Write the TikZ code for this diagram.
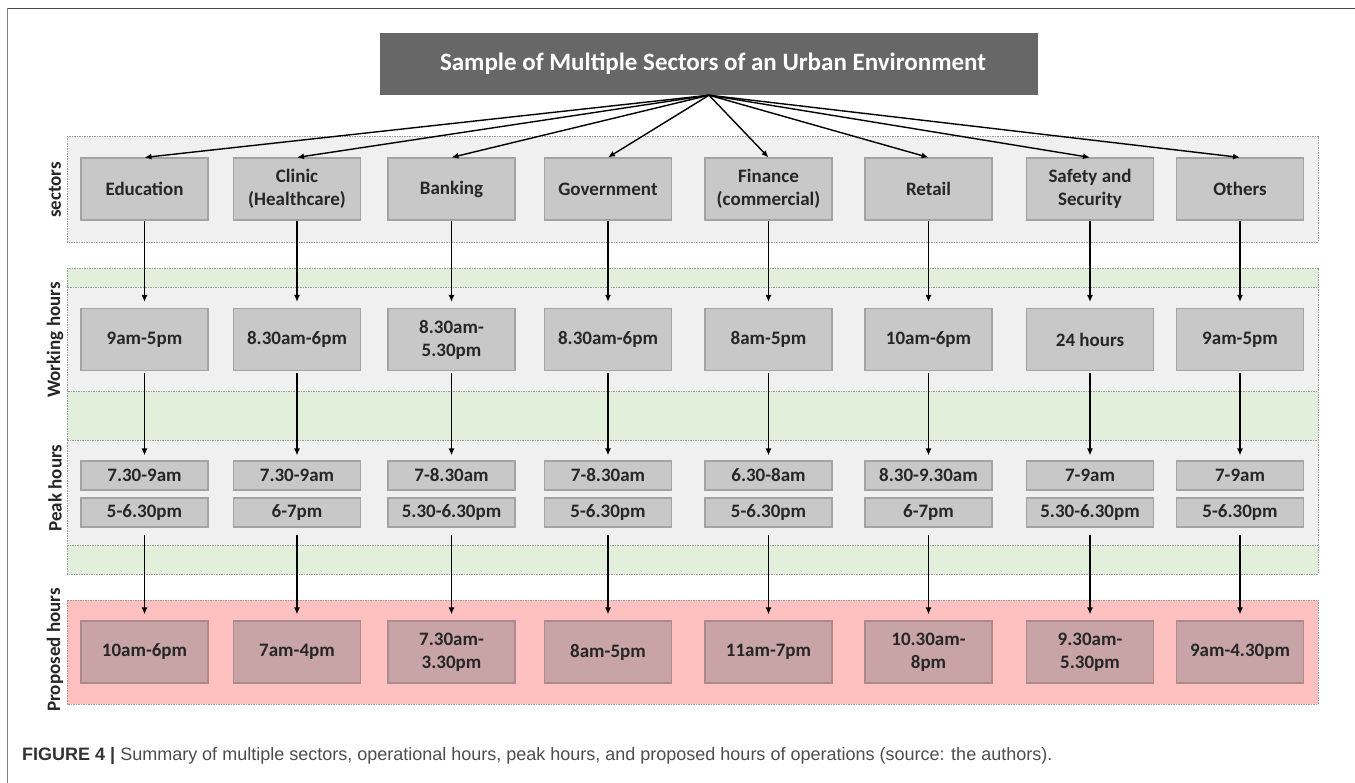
\documentclass[tikz,border=0pt]{standalone}
\usepackage{fontspec}
\newfontfamily\carl{Carlito}
\newfontfamily\capf{Liberation Sans}
\usetikzlibrary{arrows.meta}
\definecolor{titlegray}{HTML}{676767}
\definecolor{bandgray}{HTML}{F0F0F0}
\definecolor{bandgreen}{HTML}{E2EFDA}
\definecolor{bandpink}{HTML}{FFC0C0}
\definecolor{boxgray}{HTML}{C8C8C8}
\definecolor{boxedge}{HTML}{A3A3A3}
\definecolor{rosebox}{HTML}{C9A4A6}
\definecolor{roseedge}{HTML}{AA8A8C}
\definecolor{dashgray}{HTML}{9C9C9C}
\definecolor{txt}{HTML}{262626}
\definecolor{framedark}{HTML}{4A4A4A}
\definecolor{frameleft}{HTML}{7F7F7F}
\definecolor{capdark}{HTML}{333333}
\definecolor{capgray}{HTML}{4D4D4D}
\begin{document}
\begin{tikzpicture}[x=1pt,y=-1pt,
  band/.style={draw=dashgray, line width=0.7pt, dash pattern=on 1.5pt off 1pt},
  cell/.style={draw=boxedge, fill=boxgray, line width=1.1pt, minimum width=127pt, inner sep=0pt, align=center, font=\carl\bfseries\fontsize{19}{23}\selectfont, text=txt},
  bigcell/.style={cell, minimum height=62pt},
  smallcell/.style={cell, minimum height=29pt},
  propcell/.style={bigcell, draw=roseedge, fill=rosebox},
  rowlabel/.style={rotate=90, inner sep=0pt, font=\carl\bfseries\fontsize{19}{23}\selectfont, text=txt},
  arr/.style={draw=black, line width=1.4pt, -{Latex[length=7pt,width=6pt]}},
]
\useasboundingbox (0,0) rectangle (1355,783);
\fill[white] (0,0) rectangle (1355,783);
% frame
\draw[framedark, line width=1.4pt] (7,8.5) -- (1355,8.5);
\draw[frameleft, line width=1.6pt] (7.5,8) -- (7.5,783);
% bands
\filldraw[band, fill=bandgray] (67,136) rectangle (1318,242);
\filldraw[band, fill=bandgreen] (67,268) rectangle (1318,574);
\filldraw[band, fill=bandgray] (67,287) rectangle (1318,391);
\filldraw[band, fill=bandgray] (67,440) rectangle (1318,545);
\filldraw[band, fill=bandpink] (67,600) rectangle (1318,704);
% row labels
\node[rowlabel] (lsec) at (55,190) {sectors};
\node[rowlabel] (lwork) at (55,340) {Working hours};
\node[rowlabel] (lpeak) at (55,488) {Peak hours};
\node[rowlabel] (lprop) at (55,650) {Proposed hours};
% title
\node[fill=titlegray, minimum width=658pt, minimum height=62pt, inner sep=0pt, text=white, font=\carl\bfseries\fontsize{25}{30}\selectfont] (T) at (709,64) {\hspace*{8pt}Sample of Multiple Sectors of an Urban Environment};
% columns
\foreach \i/\x/\s/\w/\pa/\pb/\p in {
  1/144.5/{Education}/{9am-5pm}/{7.30-9am}/{5-6.30pm}/{10am-6pm},
  2/297/{Clinic\\(Healthcare)}/{8.30am-6pm}/{7.30-9am}/{6-7pm}/{7am-4pm},
  3/451.5/{Banking}/{8.30am-\\5.30pm}/{7-8.30am}/{5.30-6.30pm}/{7.30am-\\3.30pm},
  4/608/{Government}/{8.30am-6pm}/{7-8.30am}/{5-6.30pm}/{8am-5pm},
  5/768.5/{Finance\\(commercial)}/{8am-5pm}/{6.30-8am}/{5-6.30pm}/{11am-7pm},
  6/928.5/{Retail}/{10am-6pm}/{8.30-9.30am}/{6-7pm}/{10.30am-\\8pm},
  7/1090/{Safety and\\Security}/{24 hours}/{7-9am}/{5.30-6.30pm}/{9.30am-\\5.30pm},
  8/1240/{Others}/{9am-5pm}/{7-9am}/{5-6.30pm}/{9am-4.30pm}} {
  \node[bigcell] (s\i) at (\x,189) {\s};
  \node[bigcell] (w\i) at (\x,339.5) {\w};
  \node[smallcell] (pa\i) at (\x,475.5) {\pa};
  \node[smallcell] (pb\i) at (\x,512.5) {\pb};
  \node[propcell] (p\i) at (\x,652) {\p};
  \draw[arr] (T.south) -- (s\i.north);
  \draw[arr, shorten >=6pt] (s\i.south) -- (w\i.north);
  \draw[arr, shorten <=2pt, shorten >=5pt] (w\i.south) -- (pa\i.north);
  \draw[arr, shorten <=7pt, shorten >=6pt] (pb\i.south) -- (p\i.north);
}
% caption
\node[anchor=base west, inner sep=0pt, font=\capf\fontsize{18}{21}\selectfont] (cap) at (22,760)
  {\textcolor{capdark}{\bfseries FIGURE 4 |} \textcolor{capgray}{Summary of multiple sectors, operational hours, peak hours, and proposed hours of operations (source: the authors).}};
\end{tikzpicture}
\end{document}
